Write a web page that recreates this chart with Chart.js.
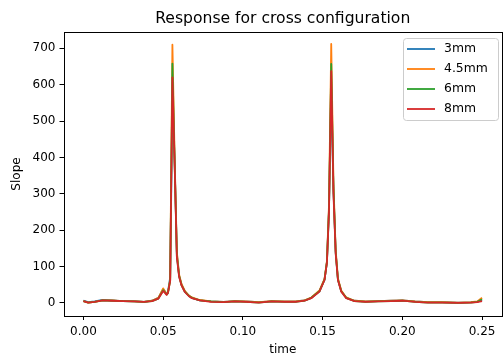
<!DOCTYPE html>
<html>
<head>
<meta charset="utf-8">
<script src="https://cdn.jsdelivr.net/npm/chart.js@4.4.0/dist/chart.umd.min.js"></script>
<style>
  html, body { margin: 0; padding: 0; background: #fff; }
  #wrap { width: 503px; height: 363px; position: relative; }
</style>
</head>
<body>
<div id="wrap"><canvas id="chart" width="503" height="363"></canvas></div>
<script>
// sample times (s), shared by all series
const times = [
  0, 0.003, 0.007, 0.012, 0.018, 0.025, 0.032, 0.038, 0.043, 0.047,
  0.0500, 0.0522, 0.0530, 0.0544, 0.0558, 0.0572, 0.0586, 0.0600, 0.0615, 0.0636,
  0.066, 0.068, 0.073, 0.080, 0.088, 0.095, 0.102, 0.110, 0.118, 0.126,
  0.133, 0.1387, 0.1429, 0.1480, 0.1512, 0.1527, 0.1540, 0.1554, 0.1568, 0.1582,
  0.1596, 0.1617, 0.1648, 0.170, 0.177, 0.185, 0.193, 0.200, 0.208, 0.216,
  0.225, 0.235, 0.243, 0.247, 0.250
];

const slope3mm = [
  6, 2, 4, 8, 7, 5, 4, 3, 6, 14,
  38, 25, 30, 70, 560, 390, 135, 75, 50, 31,
  20, 14, 7, 4, 3, 5, 4, 2, 4, 4,
  4, 7, 14, 32, 64, 112, 260, 590, 310, 140,
  65, 32, 14, 6, 4, 5, 6, 7, 4, 2,
  2, 1, 2, 3, 8
];
const slope4_5mm = [
  5, 1, 3, 7, 7, 5, 4, 3, 6, 14,
  40, 24, 28, 65, 710, 400, 140, 78, 52, 33,
  21, 15, 8, 4, 3, 5, 4, 2, 5, 4,
  4, 7, 15, 34, 66, 115, 270, 712, 330, 145,
  68, 34, 15, 6, 4, 5, 6, 7, 4, 2,
  2, 1, 2, 4, 14
];
const slope6mm = [
  5, 1, 3, 7, 6, 5, 4, 3, 5, 12,
  35, 23, 27, 62, 658, 385, 130, 74, 49, 31,
  20, 14, 7, 4, 2, 4, 3, 1, 4, 3,
  3, 6, 14, 32, 64, 112, 255, 657, 315, 138,
  64, 32, 14, 5, 3, 4, 5, 6, 3, 1,
  1, 0, 1, 3, 10
];
const slope8mm = [
  5, 1, 3, 7, 6, 5, 4, 3, 5, 12,
  33, 22, 28, 60, 620, 380, 125, 72, 48, 30,
  19, 13, 7, 3, 2, 4, 3, 1, 4, 3,
  3, 6, 13, 31, 63, 110, 250, 637, 300, 135,
  63, 31, 13, 5, 3, 4, 5, 6, 3, 1,
  1, 0, 1, 2, 5
];

const seriesLabels = ['3mm', '4.5mm', '6mm', '8mm'];
const seriesColors = ['#1f77b4', '#ff7f0e', '#2ca02c', '#d62728'];
const xTickValues = [0, 0.05, 0.10, 0.15, 0.20, 0.25];
const yTickValues = [0, 100, 200, 300, 400, 500, 600, 700];

const FONT = '"DejaVu Sans", Verdana, sans-serif';

function toPoints(ys) {
  return ys.map(function (y, i) { return { x: times[i], y: y }; });
}

const allSeries = [slope3mm, slope4_5mm, slope6mm, slope8mm];

/** Frame, title, axis titles and legend drawn the matplotlib way. */
const decorPlugin = {
  id: 'decor',
  afterDraw: function (chart) {
    const ctx = chart.ctx;
    const a = chart.chartArea;
    ctx.save();
    // spines
    ctx.strokeStyle = '#000';
    ctx.lineWidth = 1;
    ctx.strokeRect(Math.round(a.left) + 0.5, Math.round(a.top) + 0.5,
      Math.round(a.right - a.left) - 1, Math.round(a.bottom - a.top));

    const cx = (a.left + a.right) / 2;
    ctx.fillStyle = '#000';
    ctx.textAlign = 'center';
    ctx.textBaseline = 'middle';
    ctx.font = '15.6px ' + FONT;
    ctx.fillText('Response for cross configuration', cx, 19);

    ctx.font = '12px ' + FONT;
    ctx.fillText('time', cx, 350);

    ctx.save();
    ctx.translate(17, (a.top + a.bottom) / 2);
    ctx.rotate(-Math.PI / 2);
    ctx.fillText('Slope', 0, 0);
    ctx.restore();

    // legend
    const bx = 403.5, by = 38.5, bw = 95, bh = 82, r = 3;
    ctx.beginPath();
    ctx.moveTo(bx + r, by);
    ctx.lineTo(bx + bw - r, by);
    ctx.arcTo(bx + bw, by, bx + bw, by + r, r);
    ctx.lineTo(bx + bw, by + bh - r);
    ctx.arcTo(bx + bw, by + bh, bx + bw - r, by + bh, r);
    ctx.lineTo(bx + r, by + bh);
    ctx.arcTo(bx, by + bh, bx, by + bh - r, r);
    ctx.lineTo(bx, by + r);
    ctx.arcTo(bx, by, bx + r, by, r);
    ctx.closePath();
    ctx.fillStyle = 'rgba(255,255,255,0.8)';
    ctx.fill();
    ctx.strokeStyle = '#cccccc';
    ctx.lineWidth = 1;
    ctx.stroke();

    ctx.textAlign = 'left';
    ctx.font = '12.4px ' + FONT;
    chart.data.datasets.forEach(function (ds, i) {
      const ry = 49 + i * 20;
      ctx.strokeStyle = ds.borderColor;
      ctx.lineWidth = 1.8;
      ctx.beginPath();
      ctx.moveTo(407, ry);
      ctx.lineTo(435, ry);
      ctx.stroke();
      ctx.fillStyle = '#000';
      ctx.fillText(ds.label, 444, ry);
    });
    ctx.restore();
  }
};

new Chart(document.getElementById('chart'), {
  type: 'line',
  data: {
    datasets: allSeries.map(function (ys, i) {
      return {
        label: seriesLabels[i],
        data: toPoints(ys),
        borderColor: seriesColors[i],
        backgroundColor: seriesColors[i],
        borderWidth: 1.8,
        borderJoinStyle: 'round',
        pointRadius: 0,
        tension: 0,
        fill: false,
        order: allSeries.length - i
      };
    })
  },
  options: {
    responsive: false,
    animation: false,
    layout: { padding: { top: 32, right: 1, left: 0, bottom: 0 } },
    plugins: {
      legend: { display: false },
      title: { display: false },
      tooltip: { enabled: false }
    },
    scales: {
      x: {
        type: 'linear',
        min: -0.0125,
        max: 0.2625,
        afterBuildTicks: function (scale) {
          scale.ticks = xTickValues.map(function (v) { return { value: v }; });
        },
        afterFit: function (scale) { scale.height = 47; },
        grid: { display: true, drawOnChartArea: false, drawTicks: true, tickLength: 4, color: '#000', lineWidth: 1 },
        border: { display: false },
        ticks: {
          color: '#000',
          font: { family: FONT, size: 12 },
          padding: 5,
          maxRotation: 0,
          autoSkip: false,
          callback: function (v) { return Number(v).toFixed(2); }
        }
      },
      y: {
        type: 'linear',
        min: -36,
        max: 745,
        afterBuildTicks: function (scale) {
          scale.ticks = yTickValues.map(function (v) { return { value: v }; });
        },
        afterFit: function (scale) { scale.width = 63.5; },
        grid: { display: true, drawOnChartArea: false, drawTicks: true, tickLength: 4, color: '#000', lineWidth: 1 },
        border: { display: false },
        ticks: {
          color: '#000',
          font: { family: FONT, size: 12 },
          padding: 4,
          autoSkip: false,
          callback: function (v) { return String(v); }
        }
      }
    }
  },
  plugins: [decorPlugin]
});
</script>
</body>
</html>
